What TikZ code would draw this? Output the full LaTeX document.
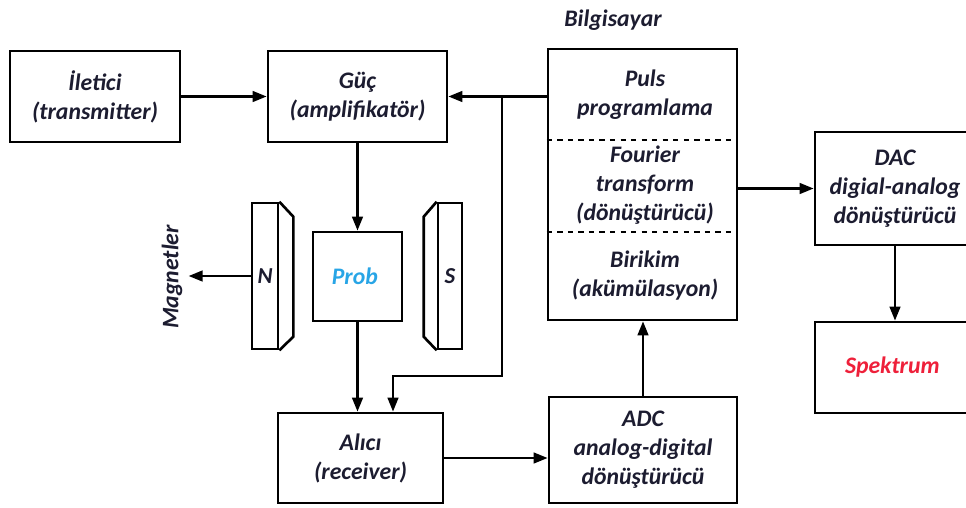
\documentclass[tikz,border=0pt]{standalone}
\usepackage{fontspec}
\setmainfont{Carlito}
\usetikzlibrary{positioning,arrows.meta}
\definecolor{textdark}{RGB}{28,28,48}
\definecolor{probblue}{RGB}{40,165,230}
\definecolor{spekred}{RGB}{238,32,58}

\begin{document}
\begin{tikzpicture}[x=0.02cm, y=-0.02cm,
    block/.style={draw=black, line width=1.5pt, rectangle, align=center, inner sep=0pt, text=textdark, font=\fontsize{13.5}{16.5}\selectfont\bfseries\itshape},
    magnet/.style={draw=black, line width=1.5pt, rectangle, inner sep=0pt, text=textdark, font=\fontsize{13}{15}\selectfont\bfseries\itshape},
    txt/.style={text=textdark, align=center, font=\fontsize{13.5}{16.5}\selectfont\bfseries\itshape},
    arr/.style={-{Triangle[length=8pt,width=6pt]}, line width=1.5pt}]
    \useasboundingbox (0,0) rectangle (966,507);
    \clip (0,0) rectangle (966,507);
    \node (Iletici) [block, minimum width=3.4cm, minimum height=1.82cm] at (95,96.5)
    {
        İletici\\(transmitter)
    };
    \node (Guc) [block, minimum width=3.58cm, minimum height=1.82cm] at (357.5,96.5)
    {
        Güç\\(amplifikatör)
    };
    \node (Prob) [block, minimum width=1.78cm, minimum height=1.78cm, text=probblue] at (357.5,276.5)
    {
        Prob
    };
    \node (Alici) [block, minimum width=3.3cm, minimum height=1.8cm] at (360.5,458)
    {
        Alıcı\\(receiver)
    };
    \node (ADC) [block, minimum width=3.76cm, minimum height=2.12cm] at (643,450)
    {
        ADC\\analog-digital\\dönüştürücü
    };
    \node (Bilgisayar) [block, minimum width=3.78cm, minimum height=5.42cm] at (642.5,184.5) {};
    \node (BilgisayarLabel) [txt] at (613,20) {Bilgisayar};
    \node (Puls) [txt] at (645,95) {Puls\\programlama};
    \node (Fourier) [txt] at (645,185) {Fourier\\transform\\(dönüştürücü)};
    \node (Birikim) [txt] at (645,276) {Birikim\\(akümülasyon)};
    \draw[dashed, line width=1.5pt] (Bilgisayar.west |- 0,140) -- (Bilgisayar.east |- 0,140);
    \draw[dashed, line width=1.5pt] (Bilgisayar.west |- 0,232) -- (Bilgisayar.east |- 0,232);
    \node (DAC) [block, minimum width=3.2cm, minimum height=2.26cm] at (895,188.5)
    {
        DAC\\digial-analog\\dönüştürücü
    };
    \node (Spektrum) [block, minimum width=3.2cm, minimum height=1.82cm, text=spekred] at (895,367.5)
    {
        Spektrum
    };
    \node (MagN) [magnet, minimum width=0.52cm, minimum height=2.92cm] at (265,276) {N};
    \draw[line width=1.5pt] (MagN.north east) -- ++(14,15) -- ++(0,120) -- (MagN.south east);
    \node (MagS) [magnet, minimum width=0.48cm, minimum height=2.92cm] at (450,276) {S};
    \draw[line width=1.5pt] (MagS.north west) -- ++(-13,15) -- ++(0,120) -- (MagS.south west);
    \node (Magnetler) [txt, rotate=90] at (172,277) {Magnetler};
    \coordinate (Tap) at (Guc.east -| 502,0);
    \coordinate (Bend) at (502,376);
    \coordinate (AliciIn) at ([xshift=0.65cm]Alici.north);
    \draw[arr] (Iletici.east) -- (Guc.west);
    \draw[arr] (Bilgisayar.west |- Guc.east) -- (Guc.east);
    \draw[arr] (Tap) -- (Bend) -| (AliciIn);
    \draw[arr] (Guc.south) -- (Prob.north);
    \draw[arr] (Prob.south) -- (Prob.south |- Alici.north);
    \draw[arr] (Alici.east) -- (Alici.east -| ADC.west);
    \draw[arr] (ADC.north) -- (ADC.north |- Bilgisayar.south);
    \draw[arr] (Bilgisayar.east |- DAC.west) -- (DAC.west);
    \draw[arr] (DAC.south) -- (DAC.south |- Spektrum.north);
    \draw[arr] (MagN.west) -- (MagN.west -| Magnetler.south);
\end{tikzpicture}
\end{document}
